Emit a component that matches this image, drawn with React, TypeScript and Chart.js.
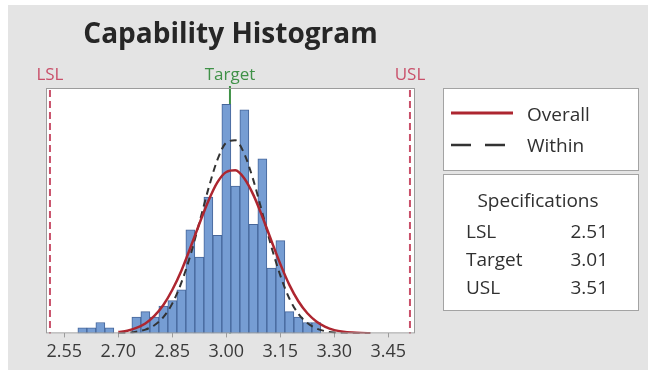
import React, { useEffect, useRef } from "react";
import { Chart, registerables } from "chart.js";

Chart.register(...registerables);

// Histogram bins (midpoints) and their frequencies
const binMidpoints = [
  2.6, 2.625, 2.65, 2.675, 2.7, 2.725, 2.75, 2.775, 2.8, 2.825, 2.85, 2.875, 2.9,
  2.925, 2.95, 2.975, 3.0, 3.025, 3.05, 3.075, 3.1, 3.125, 3.15, 3.175, 3.2, 3.225, 3.25,
];
const binCounts = [
  1, 1, 2, 1, 0, 0, 3, 4, 3, 5, 6, 8, 19,
  14, 25, 18, 42, 27, 41, 20, 32, 12, 17, 4, 3, 2, 2,
];

// Fitted normal curves (Overall / Within), in frequency units
const fitX = [
  2.7, 2.725, 2.75, 2.775, 2.8, 2.825, 2.85, 2.875, 2.9, 2.925, 2.95, 2.975, 3.0, 3.025,
  3.05, 3.075, 3.1, 3.125, 3.15, 3.175, 3.2, 3.225, 3.25, 3.275, 3.3, 3.325, 3.35, 3.375, 3.4,
];
const overallFit = [
  0.25, 0.5, 1.0, 1.8, 3.2, 5.2, 8.0, 11.5, 15.7, 20.1, 24.3, 27.7, 29.6, 29.9,
  28.4, 25.4, 21.4, 17.0, 12.7, 8.9, 5.9, 3.7, 2.2, 1.2, 0.6, 0.3, 0.15, 0.07, 0.03,
];
const withinFit = [
  0.04, 0.1, 0.3, 0.7, 1.5, 3.0, 5.5, 9.3, 14.3, 20.3, 26.5, 31.8, 35.0, 35.4,
  32.9, 28.1, 22.1, 15.9, 10.6, 6.4, 3.6, 1.9, 0.9, 0.4, 0.15, 0.06, 0.02, 0.01, 0.0,
];

const xTickValues = [2.55, 2.7, 2.85, 3.0, 3.15, 3.3, 3.45];
const specNames = ["LSL", "Target", "USL"];
const specValues = [2.51, 3.01, 3.51];
const legendLabels = ["Overall", "Within"];
const chartTitle = "Capability Histogram";
const specTitle = "Specifications";

const FONT = '"Open Sans", "Noto Sans", sans-serif';
const OVERALL_COLOR = "#ad2630";
const WITHIN_COLOR = "#333333";
const LIMIT_COLOR = "#c9506a";
const TARGET_COLOR = "#3f9147";
const TEXT_COLOR = "#303030";
const PANEL_BORDER = "#a3a3a3";

const decorations = {
  id: "capabilityDecorations",
  beforeDraw(chart: any) {
    const { ctx, width, height, chartArea: a } = chart;
    ctx.save();
    ctx.fillStyle = "#ffffff";
    ctx.fillRect(0, 0, width, height);
    ctx.fillStyle = "#e4e4e4";
    ctx.fillRect(8, 5, 640, height - 5);
    ctx.fillStyle = "#ffffff";
    ctx.fillRect(a.left, a.top, a.right - a.left, a.bottom - a.top);
    ctx.restore();
  },
  beforeDatasetsDraw(chart: any) {
    const { ctx, chartArea: a, scales } = chart;
    const x = scales.x.getPixelForValue(specValues[1]);
    ctx.save();
    ctx.strokeStyle = TARGET_COLOR;
    ctx.lineWidth = 2;
    ctx.beginPath();
    ctx.moveTo(x, a.top - 2);
    ctx.lineTo(x, a.bottom);
    ctx.stroke();
    ctx.restore();
  },
  afterDatasetsDraw(chart: any) {
    const { ctx, chartArea: a, scales } = chart;
    const xs = scales.x;
    ctx.save();

    // specification limit lines
    ctx.strokeStyle = LIMIT_COLOR;
    ctx.lineWidth = 2;
    ctx.setLineDash([7, 4]);
    [specValues[0], specValues[2]].forEach((v) => {
      const x = xs.getPixelForValue(v);
      ctx.beginPath();
      ctx.moveTo(x, a.top + 2);
      ctx.lineTo(x, a.bottom);
      ctx.stroke();
    });
    ctx.setLineDash([]);

    // plot frame
    ctx.strokeStyle = "#9c9c9c";
    ctx.lineWidth = 1;
    ctx.strokeRect(a.left + 0.5, a.top + 0.5, a.right - a.left - 1, a.bottom - a.top - 1);

    // labels above the limit lines
    ctx.font = `17px ${FONT}`;
    ctx.textAlign = "center";
    ctx.textBaseline = "middle";
    specNames.forEach((name, i) => {
      ctx.fillStyle = i === 1 ? TARGET_COLOR : LIMIT_COLOR;
      ctx.fillText(name, xs.getPixelForValue(specValues[i]), 75);
    });

    // title
    ctx.fillStyle = "#262626";
    ctx.font = `bold 28px ${FONT}`;
    ctx.fillText(chartTitle, (a.left + a.right) / 2, 35);

    // legend panel
    const px = 443.5;
    const pw = 195;
    ctx.fillStyle = "#ffffff";
    ctx.strokeStyle = PANEL_BORDER;
    ctx.fillRect(px, 88.5, pw, 82);
    ctx.strokeRect(px, 88.5, pw, 82);
    ctx.fillRect(px, 174.5, pw, 136);
    ctx.strokeRect(px, 174.5, pw, 136);

    ctx.lineWidth = 3;
    ctx.strokeStyle = OVERALL_COLOR;
    ctx.beginPath();
    ctx.moveTo(451, 113);
    ctx.lineTo(513, 113);
    ctx.stroke();
    ctx.lineWidth = 2.5;
    ctx.strokeStyle = WITHIN_COLOR;
    ctx.setLineDash([20, 14]);
    ctx.beginPath();
    ctx.moveTo(451, 145);
    ctx.lineTo(510, 145);
    ctx.stroke();
    ctx.setLineDash([]);

    ctx.font = `19px ${FONT}`;
    ctx.fillStyle = TEXT_COLOR;
    ctx.textAlign = "left";
    ctx.fillText(legendLabels[0], 527, 116);
    ctx.fillText(legendLabels[1], 527, 147);

    // specifications table
    ctx.textAlign = "center";
    ctx.fillText(specTitle, 538, 202);
    specNames.forEach((name, i) => {
      const y = 233 + i * 28;
      ctx.textAlign = "left";
      ctx.fillText(name, 466, y);
      ctx.textAlign = "right";
      ctx.fillText(specValues[i].toFixed(2), 608, y);
    });

    ctx.restore();
  },
};

export default function App() {
  const canvasRef = useRef<HTMLCanvasElement | null>(null);

  useEffect(() => {
    document.body.style.margin = "0";
    const canvas = canvasRef.current;
    if (!canvas) return;

    const chart = new Chart(canvas, {
      type: "bar",
      data: {
        datasets: [
          {
            type: "line",
            label: legendLabels[0],
            data: fitX.map((x, i) => ({ x, y: overallFit[i] })),
            borderColor: OVERALL_COLOR,
            borderWidth: 2.5,
            pointRadius: 0,
            cubicInterpolationMode: "monotone",
            order: 0,
          } as any,
          {
            type: "line",
            label: legendLabels[1],
            data: fitX.map((x, i) => ({ x, y: withinFit[i] })),
            borderColor: WITHIN_COLOR,
            borderWidth: 2,
            borderDash: [7, 5],
            pointRadius: 0,
            cubicInterpolationMode: "monotone",
            order: 1,
          } as any,
          {
            type: "bar",
            label: "Frequency",
            data: binMidpoints.map((x, i) => ({ x, y: binCounts[i] })),
            backgroundColor: "#769dd3",
            borderColor: "#46669a",
            borderWidth: 1,
            barPercentage: 1,
            categoryPercentage: 1,
            order: 2,
          } as any,
        ],
      },
      options: {
        responsive: false,
        animation: false,
        layout: { padding: { left: 46, top: 88, right: 241, bottom: 3 } },
        plugins: {
          legend: { display: false },
          title: { display: false },
          tooltip: { enabled: false },
        },
        scales: {
          x: {
            type: "linear",
            min: 2.499,
            max: 3.524,
            offset: false,
            grid: {
              offset: false,
              drawOnChartArea: false,
              drawTicks: true,
              tickLength: 4,
              color: "#9c9c9c",
            },
            border: { display: false },
            afterBuildTicks: (scale: any) => {
              scale.ticks = xTickValues.map((v) => ({ value: v }));
            },
            ticks: {
              autoSkip: false,
              maxRotation: 0,
              padding: 4,
              color: "#3a3a3a",
              font: { family: FONT, size: 18 },
              callback: (v: any) => Number(v).toFixed(2),
            },
          },
          y: {
            display: false,
            min: 0,
            max: 45,
          },
        },
      },
      plugins: [decorations],
    });

    return () => chart.destroy();
  }, []);

  return (
    <canvas
      ref={canvasRef}
      width={656}
      height={370}
      style={{ display: "block", width: 656, height: 370 }}
    />
  );
}
